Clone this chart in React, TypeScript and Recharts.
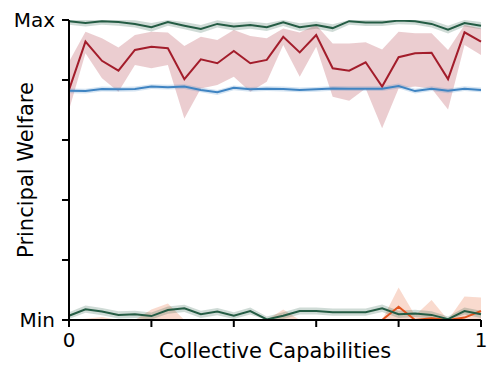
import React from 'react';
import { ComposedChart, Line, Area, XAxis, YAxis } from 'recharts';

const xs = [0, 0.04, 0.08, 0.12, 0.16, 0.2, 0.24, 0.28, 0.32, 0.36, 0.4, 0.44, 0.48, 0.52, 0.56, 0.6, 0.64, 0.68, 0.72, 0.76, 0.8, 0.84, 0.88, 0.92, 0.96, 1];

const redMean = [0.767, 0.928, 0.864, 0.831, 0.9, 0.911, 0.906, 0.803, 0.869, 0.856, 0.897, 0.856, 0.867, 0.944, 0.892, 0.95, 0.839, 0.831, 0.859, 0.778, 0.876, 0.889, 0.891, 0.803, 0.959, 0.928];
const redLo = [0.7, 0.889, 0.806, 0.761, 0.85, 0.839, 0.85, 0.672, 0.772, 0.783, 0.811, 0.761, 0.794, 0.917, 0.811, 0.911, 0.744, 0.731, 0.772, 0.639, 0.772, 0.778, 0.772, 0.702, 0.917, 0.883];
const redHi = [0.861, 0.961, 0.939, 0.908, 0.95, 0.961, 0.958, 0.913, 0.944, 0.933, 0.967, 0.947, 0.939, 0.972, 0.958, 0.983, 0.922, 0.922, 0.926, 0.902, 0.961, 0.956, 0.956, 0.9, 0.983, 0.972];

const blueMean = [0.764, 0.763, 0.77, 0.769, 0.77, 0.778, 0.776, 0.778, 0.767, 0.759, 0.774, 0.769, 0.771, 0.77, 0.767, 0.769, 0.772, 0.771, 0.771, 0.771, 0.78, 0.763, 0.771, 0.764, 0.771, 0.767];
const blueLo = [0.756, 0.755, 0.762, 0.761, 0.762, 0.77, 0.768, 0.77, 0.759, 0.75, 0.766, 0.761, 0.763, 0.762, 0.759, 0.761, 0.764, 0.763, 0.763, 0.763, 0.772, 0.755, 0.763, 0.756, 0.763, 0.759];
const blueHi = [0.772, 0.771, 0.778, 0.777, 0.778, 0.786, 0.784, 0.786, 0.775, 0.767, 0.782, 0.777, 0.779, 0.778, 0.775, 0.777, 0.78, 0.779, 0.779, 0.779, 0.788, 0.771, 0.779, 0.772, 0.779, 0.775];

const greenTopMean = [0.996, 0.99, 0.996, 0.993, 0.987, 0.976, 0.993, 0.981, 0.97, 0.987, 0.978, 0.983, 0.976, 0.992, 0.976, 0.983, 0.973, 0.996, 0.992, 0.992, 0.998, 0.996, 0.987, 0.968, 0.99, 0.981];
const greenTopLo = [0.984, 0.978, 0.984, 0.981, 0.975, 0.962, 0.981, 0.969, 0.957, 0.975, 0.965, 0.971, 0.963, 0.98, 0.963, 0.971, 0.96, 0.984, 0.98, 0.98, 0.986, 0.984, 0.975, 0.955, 0.978, 0.969];
const greenTopHi = [1, 1, 1, 1, 0.999, 0.99, 1, 0.993, 0.983, 0.999, 0.991, 0.995, 0.989, 1, 0.989, 0.995, 0.986, 1, 1, 1, 1, 1, 0.999, 0.981, 1, 0.993];

const greenBotMean = [0.014, 0.036, 0.028, 0.017, 0.019, 0.013, 0.033, 0.039, 0.019, 0.028, 0.014, 0.03, 0.002, 0.014, 0.03, 0.03, 0.026, 0.026, 0.026, 0.039, 0.019, 0.022, 0.017, 0.003, 0.03, 0.019];
const greenBotLo = [0.003, 0.024, 0.016, 0.005, 0.007, 0.002, 0.021, 0.027, 0.007, 0.016, 0.003, 0.018, 0, 0.003, 0.018, 0.018, 0.014, 0.014, 0.014, 0.027, 0.007, 0.01, 0.005, 0, 0.018, 0.007];
const greenBotHi = [0.026, 0.048, 0.04, 0.029, 0.031, 0.025, 0.045, 0.051, 0.031, 0.04, 0.026, 0.042, 0.012, 0.026, 0.042, 0.042, 0.038, 0.038, 0.038, 0.052, 0.031, 0.034, 0.029, 0.012, 0.042, 0.031];

const orangeMean = [0, 0, 0, 0, 0, 0, 0, 0, 0, 0, 0, 0, 0, 0, 0, 0, 0, 0, 0, 0, 0.044, 0, 0.006, 0, 0.008, 0.03];
const orangeLo = [0, 0, 0, 0, 0, 0, 0, 0, 0, 0, 0, 0, 0, 0, 0, 0, 0, 0, 0, 0, 0, 0, 0, 0, 0, 0];
const orangeHi = [0, 0.004, 0.01, 0, 0, 0.035, 0.055, 0, 0, 0, 0, 0, 0, 0.035, 0, 0, 0, 0, 0.004, 0, 0.108, 0.015, 0.067, 0, 0.078, 0.075];

const xTicks = [0, 0.2, 0.4, 0.6, 0.8, 1];
const yTicks = [0, 0.2, 0.4, 0.6, 0.8, 1];
const xTickLabels: Record<string, string> = { '0': '0', '1': '1' };
const yTickLabels: Record<string, string> = { '0': 'Min', '1': 'Max' };

const data = xs.map((x, i) => ({
  x,
  red: redMean[i],
  redBand: [redLo[i], redHi[i]],
  blue: blueMean[i],
  blueBand: [blueLo[i], blueHi[i]],
  gTop: greenTopMean[i],
  gTopBand: [greenTopLo[i], greenTopHi[i]],
  gBot: greenBotMean[i],
  gBotBand: [greenBotLo[i], greenBotHi[i]],
  orange: orangeMean[i],
  orangeBand: [orangeLo[i], orangeHi[i]],
}));

const FONT = 'DejaVu Sans, sans-serif';
const GREEN = '#245c44';
const RED = '#a31d2b';
const BLUE = '#3f84c2';
const ORANGE = '#e2551f';
const axisStyle = { stroke: '#000', strokeWidth: 2 };

export default function App() {
  return (
    <div style={{ position: 'absolute', left: 0, top: 0, width: 500, height: 375, background: '#fff' }}>
      <ComposedChart width={500} height={375} data={data} margin={{ top: 20, right: 19, bottom: 0, left: 0 }}>
        <Area type="linear" dataKey="gTopBand" stroke="none" fill={GREEN} fillOpacity={0.22} isAnimationActive={false} />
        <Area type="linear" dataKey="redBand" stroke="none" fill={RED} fillOpacity={0.22} isAnimationActive={false} />
        <Area type="linear" dataKey="blueBand" stroke="none" fill={BLUE} fillOpacity={0.22} isAnimationActive={false} />
        <Area type="linear" dataKey="orangeBand" stroke="none" fill={ORANGE} fillOpacity={0.22} isAnimationActive={false} />
        <Area type="linear" dataKey="gBotBand" stroke="none" fill={GREEN} fillOpacity={0.22} isAnimationActive={false} />
        <Line type="linear" dataKey="orange" stroke={ORANGE} strokeWidth={2} dot={false} isAnimationActive={false} />
        <Line type="linear" dataKey="gTop" stroke={GREEN} strokeWidth={2} dot={false} isAnimationActive={false} />
        <Line type="linear" dataKey="red" stroke={RED} strokeWidth={2} dot={false} isAnimationActive={false} />
        <Line type="linear" dataKey="blue" stroke={BLUE} strokeWidth={2} dot={false} isAnimationActive={false} />
        <Line type="linear" dataKey="gBot" stroke={GREEN} strokeWidth={2} dot={false} isAnimationActive={false} />
        <XAxis
          dataKey="x"
          type="number"
          domain={[0, 1]}
          ticks={xTicks}
          interval={0}
          height={55}
          tickSize={7}
          tickMargin={6}
          axisLine={axisStyle}
          tickLine={axisStyle}
          tick={{ fill: '#000', fontSize: 20, fontFamily: FONT }}
          tickFormatter={(v: number) => xTickLabels[String(v)] ?? ''}
          label={{
            content: (p: any) => {
              const vb = p.viewBox || { x: 69, width: 412, y: 320 };
              return (
                <text x={vb.x + vb.width / 2} y={358} textAnchor="middle" fontSize={21} fontFamily={FONT} fill="#000">
                  Collective Capabilities
                </text>
              );
            },
          }}
        />
        <XAxis xAxisId="top" orientation="top" dataKey="x" type="number" domain={[0, 1]} height={0} tick={false} tickLine={false} axisLine={axisStyle} />
        <YAxis
          type="number"
          domain={[0, 1]}
          allowDataOverflow
          ticks={yTicks}
          interval={0}
          width={69}
          tickSize={7}
          tickMargin={7}
          axisLine={axisStyle}
          tickLine={axisStyle}
          tick={{ fill: '#000', fontSize: 20, fontFamily: FONT }}
          tickFormatter={(v: number) => yTickLabels[String(v)] ?? ''}
          label={{
            content: (p: any) => {
              const vb = p.viewBox || { y: 20, height: 300 };
              const cy = vb.y + vb.height / 2;
              return (
                <text x={33} y={cy} transform={`rotate(-90, 33, ${cy})`} textAnchor="middle" fontSize={21} fontFamily={FONT} fill="#000">
                  Principal Welfare
                </text>
              );
            },
          }}
        />
        <YAxis yAxisId="right" orientation="right" type="number" domain={[0, 1]} width={0} tick={false} tickLine={false} axisLine={axisStyle} />
      </ComposedChart>
    </div>
  );
}
